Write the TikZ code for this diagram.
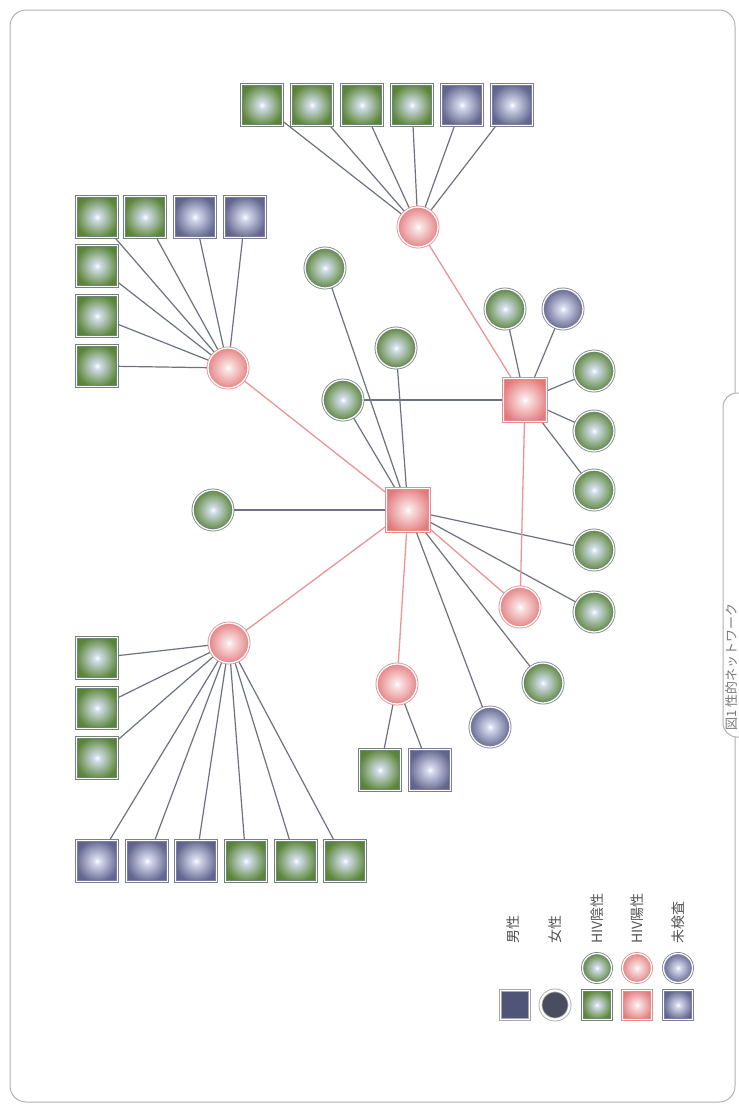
\documentclass[tikz,border=0pt]{standalone}
\usepackage{fontspec}
\setmainfont{Noto Sans CJK JP}
\usetikzlibrary{backgrounds}
\definecolor{gmain}{RGB}{92,134,56}
\definecolor{gdark}{RGB}{72,110,44}
\definecolor{gcen}{RGB}{208,220,232}
\definecolor{gbd}{RGB}{112,132,122}
\definecolor{rmain}{RGB}{226,122,124}
\definecolor{rdark}{RGB}{210,100,104}
\definecolor{rcen}{RGB}{250,226,226}
\definecolor{rbd}{RGB}{230,140,142}
\definecolor{bmain}{RGB}{98,102,144}
\definecolor{bdark}{RGB}{80,84,124}
\definecolor{bcen}{RGB}{214,218,236}
\definecolor{bbd}{RGB}{122,126,152}
\definecolor{linegray}{RGB}{108,114,126}
\definecolor{linered}{RGB}{234,150,152}
\definecolor{framecol}{RGB}{178,178,172}
\definecolor{captxt}{RGB}{120,120,120}
\definecolor{legtxt}{RGB}{85,85,85}
\definecolor{maledark}{RGB}{80,84,118}
\definecolor{femdark}{RGB}{74,76,96}
\pgfdeclareradialshading{gshade}{\pgfpoint{0bp}{0bp}}{color(0bp)=(white); color(4bp)=(gcen); color(26bp)=(gmain); color(50bp)=(gdark)}
\pgfdeclareradialshading{rshade}{\pgfpoint{0bp}{0bp}}{color(0bp)=(white); color(4bp)=(rcen); color(28bp)=(rmain); color(50bp)=(rdark)}
\pgfdeclareradialshading{bshade}{\pgfpoint{0bp}{0bp}}{color(0bp)=(white); color(4bp)=(bcen); color(26bp)=(bmain); color(50bp)=(bdark)}
\tikzset{
  base/.style={inner sep=0pt, outer sep=0pt, line width=0.8pt, double distance=1.3pt},
  sqr/.style={base, rectangle, minimum size=41pt},
  crc/.style={base, circle, minimum size=40pt},
  gsq/.style={sqr, shading=gshade, draw=gbd, double=white},
  bsq/.style={sqr, shading=bshade, draw=bbd, double=white},
  rsq/.style={sqr, shading=rshade, draw=rbd, double=white},
  gci/.style={crc, shading=gshade, draw=gbd, double=white},
  bci/.style={crc, shading=bshade, draw=bbd, double=white},
  rci/.style={crc, shading=rshade, draw=rbd, double=white},
  hub/.style={minimum size=43pt},
  small/.style={minimum size=29pt},
  gl/.style={draw=linegray, line width=1.2pt},
  rl/.style={draw=linered, line width=1.3pt},
  frame/.style={draw=framecol, line width=1pt},
  legtext/.style={rotate=90, anchor=west, inner sep=0pt, text=legtxt, font=\fontsize{14}{14}\selectfont},
}
\begin{document}
\begin{tikzpicture}[x=1pt,y=-1pt]
\useasboundingbox (0,0) rectangle (739,1106);
\begin{scope}[on background layer]
\fill[white] (0,0) rectangle (739,1106);
\end{scope}
\draw[frame, rounded corners=16pt] (10,10) rectangle (735,1102);
\draw[frame, fill=white, rounded corners=14pt] (760,393) -- (723,393) -- (723,737) -- (760,737);
\node[rotate=90, anchor=west, inner sep=0pt, text=captxt, font=\fontsize{13}{13}\selectfont] (cap) at (731.5,731) {図1 性的ネットワーク};

% top-left group
\node[rci] (c1) at (228,368) {};
\node[gsq] (tl1) at (97,217) {};
\node[gsq] (tl2) at (145,217) {};
\node[bsq] (tl3) at (195,217) {};
\node[bsq] (tl4) at (245,217) {};
\node[gsq] (tl5) at (97,266) {};
\node[gsq] (tl6) at (97,316) {};
\node[gsq] (tl7) at (97,366) {};

% top-right group
\node[rci] (c2) at (418,227) {};
\node[gsq] (tr1) at (262,105) {};
\node[gsq] (tr2) at (312,105) {};
\node[gsq] (tr3) at (362,105) {};
\node[gsq] (tr4) at (412,105) {};
\node[bsq] (tr5) at (462,105) {};
\node[bsq] (tr6) at (512,105) {};

% bottom-left group
\node[rci] (c3) at (229,643) {};
\node[gsq] (bl1) at (97,658) {};
\node[gsq] (bl2) at (97,708) {};
\node[gsq] (bl3) at (97,758) {};
\node[bsq] (bl4) at (97,861) {};
\node[bsq] (bl5) at (147,861) {};
\node[bsq] (bl6) at (196,861) {};
\node[gsq] (bl7) at (246,861) {};
\node[gsq] (bl8) at (296,861) {};
\node[gsq] (bl9) at (345,861) {};

% hubs
\node[rsq, hub] (h1) at (408,510) {};
\node[rsq, hub] (h2) at (525,400) {};

% others
\node[gci] (g1) at (213,510) {};
\node[gci] (g2) at (325,268) {};
\node[gci] (g3) at (396,348) {};
\node[gci] (g4) at (343,400) {};
\node[rci] (c4) at (397,684) {};
\node[gsq] (q1) at (380,770) {};
\node[bsq] (q2) at (430,770) {};
\node[bci] (b1) at (490,727) {};
\node[gci] (g5) at (543,683) {};
\node[rci] (c5) at (520,607) {};
\node[gci] (g6) at (594,612) {};
\node[gci] (g7) at (594,550) {};
\node[gci] (g8) at (594,490) {};
\node[gci] (g9) at (594,431) {};
\node[gci] (g10) at (594,371) {};
\node[gci] (g11) at (505,309) {};
\node[bci] (b2) at (563,309) {};

% legend
\node[base, rectangle, small, fill=maledark, draw=gray!70, double=white] (lm) at (515,1005) {};
\node[base, circle, small, fill=femdark, draw=gray!70, double=white, double distance=2.2pt] (lf) at (555,1005) {};
\node[gsq, small] (lgs) at (597,1005) {};
\node[rsq, small] (lrs) at (637,1005) {};
\node[bsq, small] (lbs) at (678,1005) {};
\node[gci, small] (lgc) at (597,968) {};
\node[rci, small] (lrc) at (637,968) {};
\node[bci, small] (lbc) at (678,968) {};
\node[legtext] (t1) at (513,944) {男性};
\node[legtext] (t2) at (555,944) {女性};
\node[legtext] (t3) at (597,944) {HIV陰性};
\node[legtext] (t4) at (637,944) {HIV陽性};
\node[legtext] (t5) at (678,944) {未検査};

\begin{scope}[on background layer]
\foreach \t in {tl1,tl2,tl3,tl4,tl5,tl6,tl7} \draw[gl] (c1) -- (\t);
\foreach \t in {tr1,tr2,tr3,tr4,tr5,tr6} \draw[gl] (c2) -- (\t);
\foreach \t in {bl1,bl2,bl3,bl4,bl5,bl6,bl7,bl8,bl9} \draw[gl] (c3) -- (\t);
\foreach \t in {q1,q2} \draw[gl] (c4) -- (\t);
\foreach \t in {c1,c3,c4,c5} \draw[rl] (h1) -- (\t);
\foreach \t in {g1,g2,g3,g4,b1,g5,g6,g7} \draw[gl] (h1) -- (\t);
\foreach \t in {c2,c5} \draw[rl] (h2) -- (\t);
\foreach \t in {g4,g8,g9,g10,g11,b2} \draw[gl] (h2) -- (\t);
\end{scope}
\end{tikzpicture}
\end{document}
